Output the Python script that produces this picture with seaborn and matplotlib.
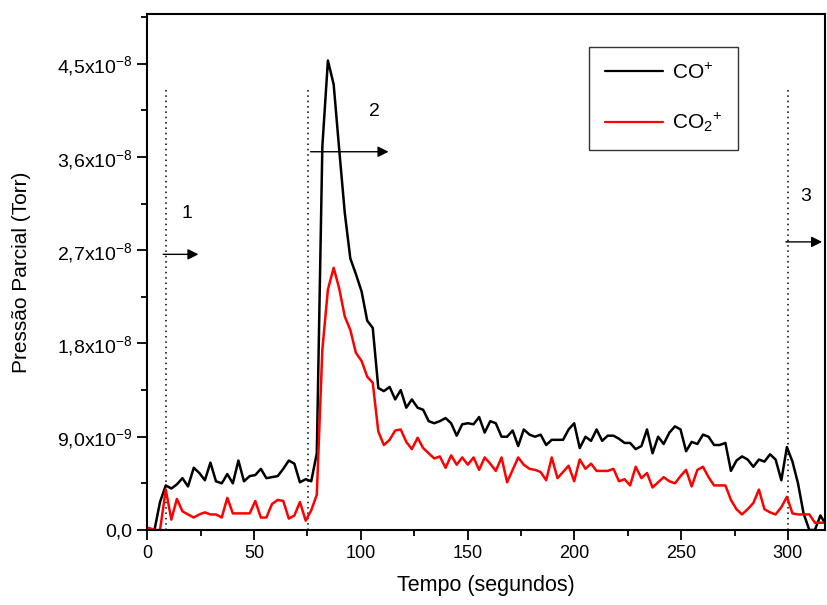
import numpy as np
import pandas as pd
import matplotlib
matplotlib.use('Agg')
import matplotlib.pyplot as plt
from matplotlib.ticker import FixedLocator, FixedFormatter, MultipleLocator
import seaborn as sns

###############################################################################
# Data (pressures in units of 1e-8 Torr)
###############################################################################
tempo = [
    0.8, 3.4, 6.0, 8.7, 11.3, 13.9, 16.5, 19.1, 21.8, 24.4,
    27.0, 29.6, 32.2, 34.9, 37.5, 40.1, 42.7, 45.3, 48.0, 50.6,
    53.2, 55.8, 58.4, 61.1, 63.7, 66.3, 68.9, 71.5, 74.2, 76.8,
    79.4, 82.0, 84.6, 87.3, 89.9, 92.5, 95.1, 97.7, 100.4, 103.0,
    105.6, 108.2, 110.8, 113.5, 116.1, 118.7, 121.3, 123.9, 126.6, 129.2,
    131.8, 134.4, 137.0, 139.7, 142.3, 144.9, 147.5, 150.1, 152.8, 155.4,
    158.0, 160.6, 163.2, 165.9, 168.5, 171.1, 173.7, 176.3, 179.0, 181.6,
    184.2, 186.8, 189.4, 192.1, 194.7, 197.3, 199.9, 202.5, 205.2, 207.8,
    210.4, 213.0, 215.6, 218.3, 220.9, 223.5, 226.1, 228.7, 231.4, 234.0,
    236.6, 239.2, 241.8, 244.5, 247.1, 249.7, 252.3, 254.9, 257.6, 260.2,
    262.8, 265.4, 268.0, 270.7, 273.3, 275.9, 278.5, 281.1, 283.8, 286.4,
    289.0, 291.6, 294.2, 296.9, 299.5, 302.1, 304.7, 307.3, 310.0, 312.6,
    315.2, 317.8
]
co = [
    0.00, 0.00, 0.27, 0.43, 0.40, 0.44, 0.50, 0.42, 0.60, 0.55,
    0.48, 0.65, 0.47, 0.45, 0.54, 0.45, 0.67, 0.47, 0.52, 0.53,
    0.59, 0.50, 0.51, 0.52, 0.59, 0.67, 0.64, 0.46, 0.49, 0.47,
    0.74, 3.70, 4.53, 4.30, 3.67, 3.06, 2.62, 2.47, 2.30, 2.02,
    1.95, 1.37, 1.34, 1.38, 1.26, 1.35, 1.18, 1.26, 1.18, 1.16,
    1.05, 1.03, 1.05, 1.08, 1.03, 0.91, 1.02, 1.03, 1.02, 1.09,
    0.94, 1.05, 1.03, 0.90, 0.90, 0.96, 0.81, 0.97, 0.92, 0.90,
    0.92, 0.82, 0.87, 0.87, 0.87, 0.97, 1.03, 0.79, 0.90, 0.86,
    0.97, 0.86, 0.91, 0.91, 0.88, 0.84, 0.84, 0.78, 0.81, 0.97,
    0.74, 0.90, 0.83, 0.94, 1.00, 0.97, 0.76, 0.85, 0.83, 0.92,
    0.90, 0.82, 0.82, 0.84, 0.57, 0.67, 0.71, 0.68, 0.61, 0.68,
    0.66, 0.73, 0.68, 0.48, 0.80, 0.66, 0.45, 0.16, 0.00, 0.00,
    0.14, 0.05
]
co2 = [
    0.02, 0.00, 0.00, 0.39, 0.10, 0.30, 0.18, 0.15, 0.12, 0.15,
    0.17, 0.15, 0.15, 0.12, 0.31, 0.16, 0.16, 0.16, 0.16, 0.28,
    0.12, 0.12, 0.25, 0.29, 0.28, 0.11, 0.14, 0.27, 0.09, 0.19,
    0.34, 1.74, 2.32, 2.53, 2.33, 2.06, 1.93, 1.71, 1.63, 1.48,
    1.42, 0.95, 0.82, 0.87, 0.96, 0.97, 0.85, 0.78, 0.89, 0.79,
    0.74, 0.69, 0.71, 0.60, 0.72, 0.63, 0.70, 0.63, 0.70, 0.58,
    0.70, 0.64, 0.57, 0.70, 0.46, 0.58, 0.70, 0.63, 0.59, 0.58,
    0.56, 0.48, 0.70, 0.50, 0.56, 0.62, 0.47, 0.68, 0.59, 0.64,
    0.57, 0.57, 0.57, 0.59, 0.47, 0.49, 0.43, 0.61, 0.50, 0.55,
    0.41, 0.46, 0.51, 0.47, 0.45, 0.52, 0.58, 0.42, 0.58, 0.61,
    0.51, 0.43, 0.43, 0.43, 0.29, 0.20, 0.15, 0.20, 0.26, 0.39,
    0.20, 0.17, 0.15, 0.22, 0.32, 0.16, 0.15, 0.15, 0.15, 0.07,
    0.07, 0.07
]
SCALE = 1e-8
series = ['CO$^{+}$', 'CO$_{2}$$^{+}$']
cores = ['black', 'red']

yticks = [0.0, 0.9, 1.8, 2.7, 3.6, 4.5]
ylabels = ['0,0', '9,0x10$^{-9}$', '1,8x10$^{-8}$', '2,7x10$^{-8}$',
           '3,6x10$^{-8}$', '4,5x10$^{-8}$']

# Stage markers: dotted lines, arrows and labels
fases = ['1', '2', '3']
fase_x = [8.9, 75.5, 300.0]
fase_top = [4.25, 4.27, 4.27]
seta_x0 = [7.5, 76.5, 299.0]
seta_x1 = [24.0, 113.0, 316.0]
seta_y = [2.66, 3.65, 2.78]
rot_xy = [(18.5, 3.05), (106.5, 4.04), (308.5, 3.22)]

###############################################################################
# Frame
###############################################################################
df = pd.concat([
    pd.DataFrame({'t': tempo, 'p': np.array(co) * SCALE, 'ion': series[0]}),
    pd.DataFrame({'t': tempo, 'p': np.array(co2) * SCALE, 'ion': series[1]}),
], ignore_index=True)

###############################################################################
# Plot
###############################################################################
sns.set_style('ticks')
plt.rcParams['font.family'] = ['Liberation Sans', 'DejaVu Sans']
plt.rcParams['mathtext.fontset'] = 'custom'
plt.rcParams['mathtext.rm'] = 'Liberation Sans'
plt.rcParams['mathtext.it'] = 'Liberation Sans:italic'
for k in ['text.color', 'axes.labelcolor', 'xtick.color', 'ytick.color']:
    plt.rcParams[k] = 'black'

(fig, ax) = plt.subplots(figsize=(8.27, 6.05), dpi=100)
fig.subplots_adjust(left=0.178, right=0.998, top=0.977, bottom=0.124)

sns.lineplot(
    data=df, x='t', y='p', hue='ion', palette=dict(zip(series, cores)),
    estimator=None, linewidth=1.8, ax=ax
)

for (x, top) in zip(fase_x, fase_top):
    ax.plot([x, x], [0, top * SCALE], color='black', lw=1.1,
            linestyle=(0, (1, 2.5)), zorder=1)
for (lab, x0, x1, y, xy) in zip(fases, seta_x0, seta_x1, seta_y, rot_xy):
    ax.annotate('', xy=(x1, y * SCALE), xytext=(x0, y * SCALE),
                arrowprops=dict(arrowstyle='-|>', color='black', lw=1.0,
                                mutation_scale=16, shrinkA=0, shrinkB=0))
    ax.text(xy[0], xy[1] * SCALE, lab, fontsize=14, ha='center', va='center')

ax.set_xlim(0, 317.5)
ax.set_ylim(0, 4.98e-8)
ax.xaxis.set_major_locator(MultipleLocator(50))
ax.xaxis.set_minor_locator(MultipleLocator(25))
ax.yaxis.set_major_locator(FixedLocator([v * SCALE for v in yticks]))
ax.yaxis.set_major_formatter(FixedFormatter(ylabels))
ax.yaxis.set_minor_locator(MultipleLocator(0.45e-8))
ax.tick_params(which='major', direction='out', length=7, width=1.3,
               colors='black')
ax.tick_params(axis='x', labelsize=13)
ax.tick_params(axis='y', labelsize=14)
ax.tick_params(which='minor', direction='out', length=4, width=1.3)
for s in ax.spines.values():
    s.set_linewidth(1.5)
    s.set_color('black')

ax.set_xlabel('Tempo (segundos)', fontsize=15.5)
ax.set_ylabel('Pressão Parcial (Torr)', fontsize=15)
ax.xaxis.set_label_coords(0.5, -0.088)
ax.yaxis.set_label_coords(-0.172, 0.5)

(h, l) = ax.get_legend_handles_labels()
for hh in h:
    hh.set_linewidth(1.6)
leg = ax.legend(h, l, loc='upper left', bbox_to_anchor=(0.652, 0.936),
                borderaxespad=0, fontsize=15, frameon=True, fancybox=False,
                handlelength=2.8, labelspacing=1.35, borderpad=0.75,
                handletextpad=0.4)
leg.get_frame().set_edgecolor('black')
leg.get_frame().set_linewidth(1.0)

fig.savefig('out.png', dpi=100)
